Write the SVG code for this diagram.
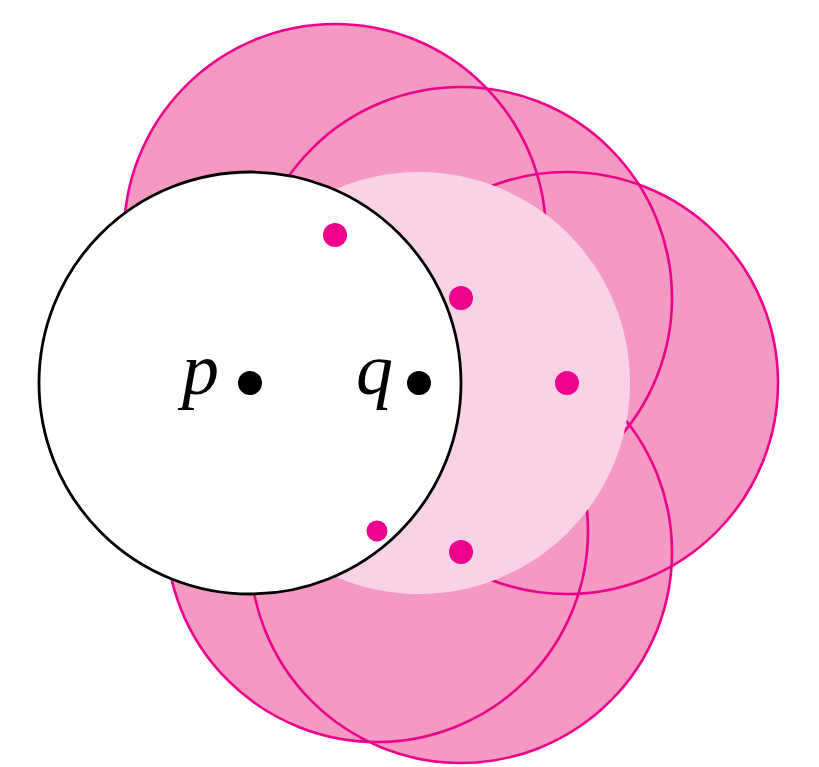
<svg xmlns="http://www.w3.org/2000/svg" width="819" height="767" viewBox="0 0 819 767">
<style>
.f{fill:#f399c2;stroke:none}
.s{fill:none;stroke:#ec008c;stroke-width:2.6}
.d{fill:#ec008c}
.b{fill:#000}
.t{font-family:"Liberation Serif",serif;font-style:italic;font-size:74px;fill:#000}
</style>
<rect width="819" height="767" fill="#fff"/>
<g id="fills">
<circle class="f" cx="335" cy="235" r="211"/>
<circle class="f" cx="461" cy="298" r="211"/>
<circle class="f" cx="567" cy="383" r="211"/>
<circle class="f" cx="461" cy="552" r="211"/>
<circle class="f" cx="377" cy="531" r="211"/>
</g>
<g id="strokes">
<circle class="s" cx="335" cy="235" r="211"/>
<circle class="s" cx="461" cy="298" r="211"/>
<circle class="s" cx="567" cy="383" r="211"/>
<circle class="s" cx="461" cy="552" r="211"/>
<circle class="s" cx="377" cy="531" r="211"/>
</g>
<g id="q-disk"><circle cx="419" cy="383" r="211" fill="#f9d3e5"/></g>
<g id="p-disk"><circle cx="250" cy="383" r="211" fill="#fff" stroke="#000" stroke-width="2.8"/></g>
<g id="points">
<circle class="d" cx="335" cy="235" r="12"/>
<circle class="d" cx="461" cy="298" r="12"/>
<circle class="d" cx="567" cy="383" r="12"/>
<circle class="d" cx="461" cy="552" r="12"/>
<circle class="d" cx="377" cy="531" r="10.5"/>
</g>
<g id="p"><circle class="b" cx="250" cy="383" r="12"/><text class="t" x="182" y="394">p</text></g>
<g id="q"><circle class="b" cx="419" cy="383" r="12"/><text class="t" x="356" y="394">q</text></g>
</svg>
